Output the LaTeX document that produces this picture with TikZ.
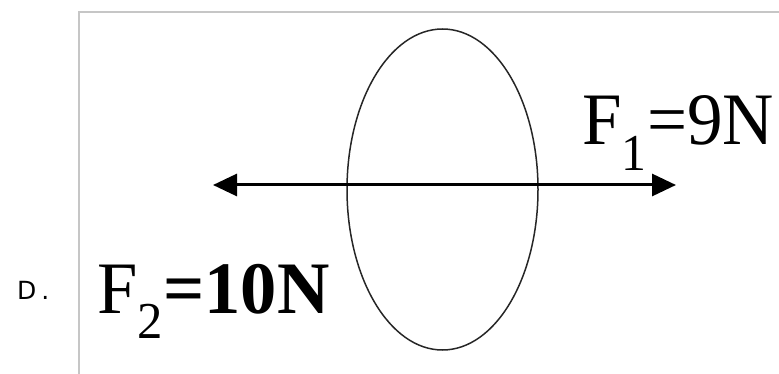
\documentclass[tikz,border=0pt]{standalone}
\usepackage{amsmath}
\usepackage{fontspec}
\setmainfont{Liberation Serif}
\newfontfamily\labelfont{DejaVu Sans}
\usetikzlibrary{arrows.meta}
\usetikzlibrary{shapes.geometric}

\begin{document}
\begin{tikzpicture}[x=1pt,y=-1pt,inner sep=0pt]
\def\fs{\fontsize{74}{80}\selectfont}
\useasboundingbox (0,0) rectangle (779,374);
\draw[line width=1.5pt,gray!45] (79,374) -- (79,12) -- (779,12);
\node (ring) at (442.5,189.5) [ellipse,draw=black!85,line width=1.5pt,minimum width=191pt,minimum height=321pt] {};
\coordinate (mid) at (442.5,185);
\coordinate (lt) at (213,185);
\coordinate (rt) at (676,185);
\draw[line width=3pt,-{Triangle[length=24pt,width=22pt]}] (mid) -- (lt);
\draw[line width=3pt,-{Triangle[length=24pt,width=22pt]}] (mid) -- (rt);
\node[anchor=base west,xscale=0.96] (fa) at (582,145) {\fs F$_{\text{1}}$=9N};
\node[anchor=base west,xscale=0.98] (fb) at (97,313) {\fs F$_{\text{2}}$\textbf{=10N}};
\node[anchor=base west] (opt) at (17,299) {\labelfont\fontsize{25}{27}\selectfont D\kern5pt.};
\end{tikzpicture}
\end{document}
